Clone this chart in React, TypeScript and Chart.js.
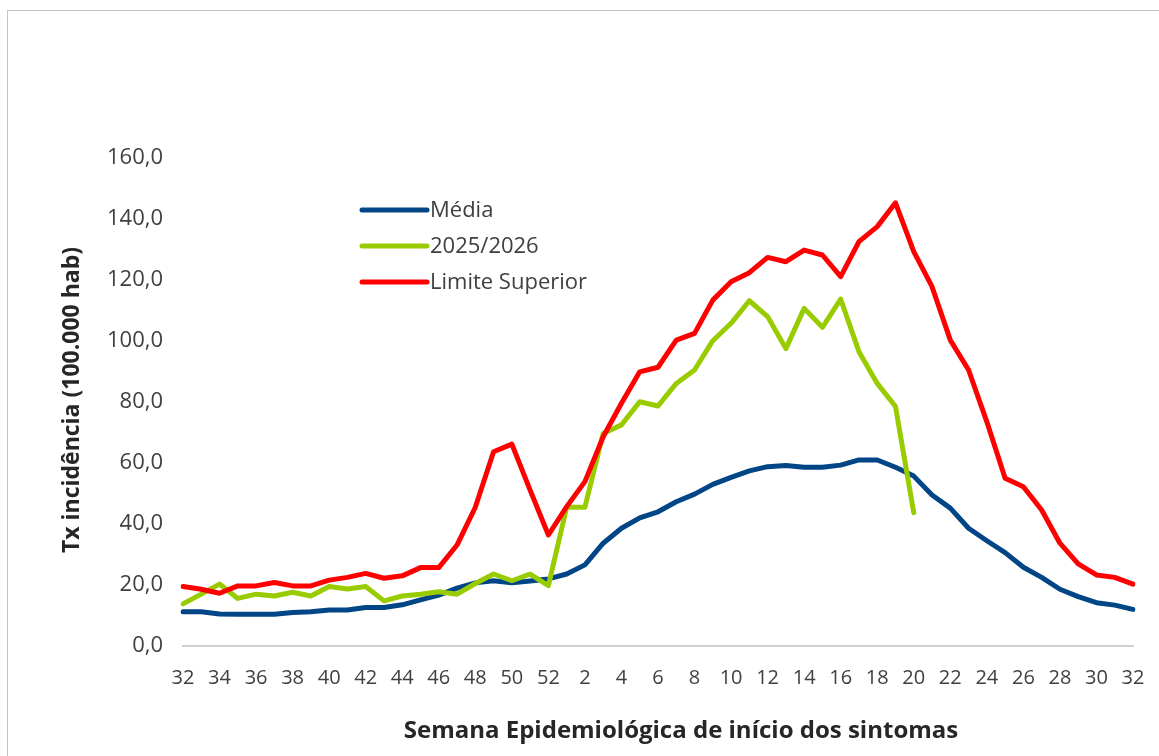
import React, { useEffect, useRef } from "react";
import { Chart, registerables } from "chart.js";

Chart.register(...registerables);

const weeks: string[] = [
  "32","33","34","35","36","37","38","39","40","41","42","43","44","45","46","47","48","49","50","51","52",
  "1","2","3","4","5","6","7","8","9","10","11","12","13","14","15","16","17","18","19","20",
  "21","22","23","24","25","26","27","28","29","30","31","32",
];

const media: number[] = [
  11.2, 11.2, 10.5, 10.4, 10.4, 10.4, 11.0, 11.2, 11.8, 11.8, 12.6, 12.6, 13.5,
  15.1, 16.7, 19.0, 20.7, 21.4, 20.7, 21.3, 22.0, 23.6, 26.6,
  33.7, 38.6, 42.0, 44.0, 47.3, 49.8, 53.0, 55.3, 57.4, 58.8,
  59.2, 58.6, 58.6, 59.3, 61.0, 61.0, 58.6, 55.7, 49.5, 45.2,
  38.6, 34.5, 30.6, 25.8, 22.5, 18.6, 16.2, 14.2, 13.4, 12.0,
];

const atual: (number | null)[] = [
  13.8, 17.0, 20.3, 15.6, 17.0, 16.4, 17.6, 16.4, 19.5, 18.7, 19.5, 14.8, 16.4,
  17.0, 17.8, 17.0, 20.5, 23.6, 21.4, 23.6, 19.8, 45.5, 45.5,
  69.7, 72.5, 80.1, 78.7, 86.1, 90.5, 100.1, 105.8, 113.2, 108.0,
  97.5, 110.7, 104.5, 113.7, 96.5, 86.1, 78.5, 43.7,
  null, null, null, null, null, null, null, null, null, null, null, null,
];

const limiteSuperior: number[] = [
  19.5, 18.6, 17.3, 19.7, 19.7, 20.8, 19.7, 19.7, 21.6, 22.5, 23.8, 22.2, 23.0,
  25.7, 25.7, 33.1, 45.5, 63.7, 66.2, 51.1, 36.4, 45.7, 53.9,
  68.6, 79.6, 89.9, 91.4, 100.3, 102.5, 113.4, 119.4, 122.4, 127.4,
  126.0, 129.8, 128.2, 121.1, 132.6, 137.5, 145.3, 129.3, 117.8, 100.3,
  90.5, 73.5, 55.0, 52.2, 44.6, 33.7, 26.9, 23.3, 22.5, 20.3,
];

const seriesNames: string[] = ["Média", "2025/2026", "Limite Superior"];
const seriesColors: string[] = ["#004586", "#99CC00", "#FF0000"];

const yTicks: number[] = [0, 20, 40, 60, 80, 100, 120, 140, 160];

const xTitle = "Semana Epidemiológica de início dos sintomas";
const yTitle = "Tx incidência (100.000 hab)";

const TEXT = "#404040";
const TITLE = "#262626";
const FONT = "'Open Sans', 'Noto Sans', sans-serif";

const overlayPlugin = {
  id: "overlayTexts",
  afterDraw(chart: any) {
    const ctx = chart.ctx as CanvasRenderingContext2D;
    ctx.save();
    const x0 = 362;
    const x1 = 427;
    const ys = [210, 246, 282];
    seriesNames.forEach((name, i) => {
      ctx.strokeStyle = seriesColors[i];
      ctx.lineWidth = 5;
      ctx.lineCap = "round";
      ctx.beginPath();
      ctx.moveTo(x0, ys[i]);
      ctx.lineTo(x1, ys[i]);
      ctx.stroke();
      ctx.fillStyle = TEXT;
      ctx.font = `22px ${FONT}`;
      ctx.textAlign = "left";
      ctx.textBaseline = "middle";
      ctx.fillText(name, 430, ys[i] + 1);
    });
    ctx.fillStyle = TITLE;
    ctx.font = `bold 24px ${FONT}`;
    ctx.textAlign = "center";
    ctx.textBaseline = "middle";
    ctx.fillText(xTitle, 681, 731);
    ctx.font = `bold 23px ${FONT}`;
    ctx.translate(72, 400);
    ctx.rotate(-Math.PI / 2);
    ctx.fillText(yTitle, 0, 0);
    ctx.restore();
  },
};

export default function App() {
  const canvasRef = useRef<HTMLCanvasElement | null>(null);

  useEffect(() => {
    if (!canvasRef.current) return;
    const datasets = [media, atual, limiteSuperior].map((d, i) => ({
      label: seriesNames[i],
      data: d,
      borderColor: seriesColors[i],
      backgroundColor: seriesColors[i],
      borderWidth: 5,
      pointRadius: 0,
      tension: 0,
      borderCapStyle: "round" as const,
      borderJoinStyle: "round" as const,
      spanGaps: false,
      order: 2 - i,
    }));

    const chart = new Chart(canvasRef.current, {
      type: "line",
      data: { labels: weeks, datasets },
      options: {
        animation: false,
        responsive: false,
        layout: { padding: { left: 0, right: 26, top: 158, bottom: 0 } },
        plugins: {
          legend: { display: false },
          tooltip: { enabled: false },
        },
        scales: {
          x: {
            offset: false,
            grid: { display: false, drawTicks: false },
            border: { display: true, color: "#D0D0D0", width: 2 },
            ticks: {
              autoSkip: false,
              maxRotation: 0,
              minRotation: 0,
              padding: 20,
              color: TEXT,
              font: { family: FONT, size: 20 },
              callback: (_v: any, idx: number) => (idx % 2 === 0 ? weeks[idx] : ""),
            },
            afterFit: (scale: any) => {
              scale.height = 110;
              scale.paddingLeft = 0;
              scale.paddingRight = 0;
            },
          },
          y: {
            min: 0,
            max: 160,
            afterBuildTicks: (scale: any) => {
              scale.ticks = yTicks.map((v) => ({ value: v }));
            },
            grid: { display: false, drawTicks: false },
            border: { display: false },
            ticks: {
              padding: 20,
              color: TEXT,
              font: { family: FONT, size: 22 },
              callback: (v: any) => Number(v).toFixed(1).replace(".", ","),
            },
            afterFit: (scale: any) => {
              scale.width = 183;
            },
          },
        },
      },
      plugins: [overlayPlugin],
    });
    return () => chart.destroy();
  }, []);

  return (
    <div
      style={{
        position: "fixed",
        left: 0,
        top: 0,
        width: 1159,
        height: 756,
        background: "#fff",
        overflow: "hidden",
      }}
    >
      <div
        style={{
          position: "absolute",
          left: 7,
          top: 10,
          width: 1170,
          height: 770,
          border: "1px solid #C4C4C4",
          boxSizing: "border-box",
        }}
      />
      <canvas
        ref={canvasRef}
        width={1159}
        height={756}
        style={{ position: "absolute", left: 0, top: 0, width: 1159, height: 756 }}
      />
    </div>
  );
}
